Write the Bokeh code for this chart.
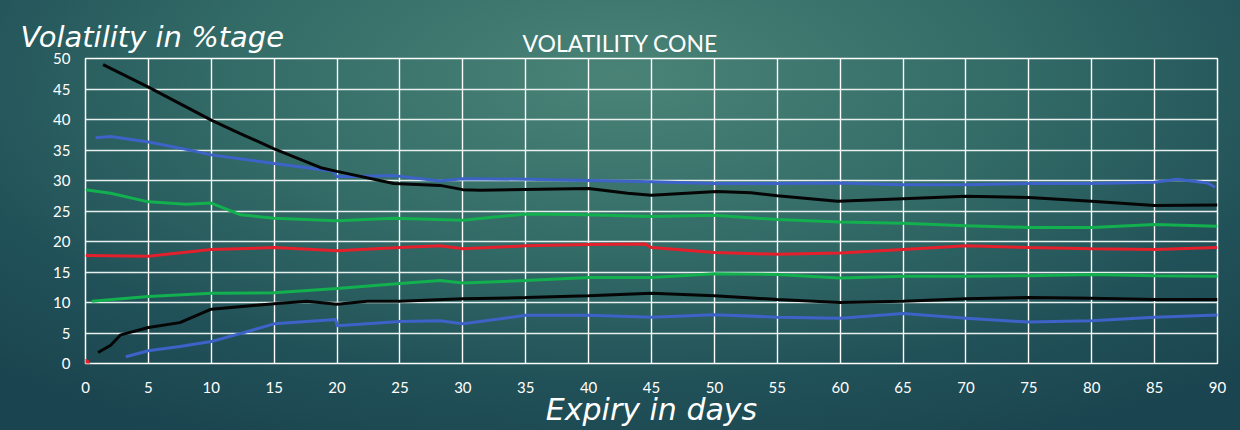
from bokeh.plotting import figure
from bokeh.models import Range1d, FixedTicker, Title
from bokeh.embed import file_html
from bokeh.resources import INLINE

# ---- data ----
x_ticks = list(range(0, 91, 5))
y_ticks = list(range(0, 51, 5))

black_hi_x = [1.4, 5, 10, 12.3, 15, 18.7, 20, 24.5, 28.2, 30, 31.4, 40, 43.1, 45, 50.2, 52.9, 55, 59.8, 65, 70, 75, 80, 85, 90]
black_hi_y = [49, 45.3, 39.9, 37.7, 35.2, 32.1, 31.5, 29.5, 29.2, 28.5, 28.4, 28.7, 27.9, 27.6, 28.2, 28.0, 27.5, 26.6, 27.0, 27.4, 27.2, 26.6, 25.9, 26.0]

blue_hi_x = [0.8, 2, 5, 8, 10, 15, 19.7, 20, 24.5, 28.2, 30, 35, 40, 45, 50, 55, 60, 65, 70, 75, 80, 85, 86.8, 89.2, 89.8]
blue_hi_y = [37.0, 37.2, 36.3, 35.1, 34.2, 32.8, 31.5, 30.6, 30.8, 29.9, 30.3, 30.2, 30.0, 29.8, 29.5, 29.5, 29.6, 29.3, 29.3, 29.5, 29.5, 29.7, 30.2, 29.6, 28.9]

green_hi_x = [0, 2, 5, 8, 10, 12.3, 15, 20, 24.5, 30, 35, 40, 45, 50, 55, 60, 65, 70, 75, 80, 85, 90]
green_hi_y = [28.5, 27.9, 26.5, 26.1, 26.3, 24.4, 23.8, 23.4, 23.8, 23.5, 24.5, 24.4, 24.1, 24.3, 23.6, 23.2, 23.0, 22.6, 22.3, 22.3, 22.8, 22.5]

red_x = [0, 5, 10, 15, 20, 25, 28.2, 30, 35, 40, 44.5, 45, 50, 55, 60, 65, 70, 75, 80, 85, 90]
red_y = [17.7, 17.6, 18.7, 19.0, 18.5, 19.0, 19.3, 18.8, 19.3, 19.5, 19.6, 19.0, 18.2, 17.9, 18.1, 18.7, 19.3, 19.0, 18.8, 18.7, 19.0]

green_lo_x = [0.5, 5, 10, 15, 20, 25, 28.2, 30, 35, 40, 45, 50, 55, 60, 65, 70, 75, 80, 85, 90.8]
green_lo_y = [10.2, 11.0, 11.5, 11.6, 12.3, 13.1, 13.6, 13.2, 13.6, 14.1, 14.1, 14.7, 14.6, 14.0, 14.3, 14.3, 14.4, 14.6, 14.4, 14.3]

black_lo_x = [1, 2, 2.8, 5, 7.5, 10, 15, 17.6, 20, 22.4, 25, 30, 35, 40, 45, 50, 55, 60, 65, 70, 75, 80, 85, 90]
black_lo_y = [1.8, 3.0, 4.7, 5.9, 6.7, 8.9, 9.8, 10.2, 9.7, 10.2, 10.2, 10.6, 10.8, 11.1, 11.5, 11.1, 10.5, 10.0, 10.2, 10.6, 10.8, 10.7, 10.5, 10.5]

blue_lo_x = [3.2, 5, 7.5, 10, 12.3, 15, 19.9, 20, 25, 28.2, 30, 35, 40, 45, 50, 55, 60, 65, 70, 75, 80, 85, 90.5]
blue_lo_y = [1.1, 2.1, 2.8, 3.6, 4.9, 6.5, 7.2, 6.2, 6.9, 7.0, 6.5, 7.9, 7.9, 7.6, 8.0, 7.6, 7.4, 8.2, 7.4, 6.8, 7.0, 7.6, 8.0]

origin_x = [0]
origin_y = [0]

title_text = "VOLATILITY CONE"
y_note = "Volatility in %tage"
x_note = "Expiry in days"

BLACK = "#050505"
BLUE = "#3d62c8"
GREEN = "#12b04e"
RED = "#e3202c"
FONT = "Lato"

p = figure(width=1240, height=430, output_backend="svg", toolbar_location=None,
           x_range=Range1d(0, 90), y_range=Range1d(0, 50),
           min_border_left=85, min_border_right=23, min_border_top=58, min_border_bottom=67)
p.styles = {"background": "radial-gradient(ellipse 75% 95% at 50% 18%, #4a8376 0%, #346d68 40%, #215158 75%, #1a444f 100%)"}
p.border_fill_color = None
p.background_fill_color = None
p.outline_line_color = "white"
p.outline_line_width = 1.5

for ax in (p.xaxis[0], p.yaxis[0]):
    ax.axis_line_color = None
    ax.major_tick_line_color = None
    ax.minor_tick_line_color = None
    ax.major_label_text_color = "white"
    ax.major_label_text_font = FONT
    ax.major_label_text_font_size = "15px"
p.xaxis[0].ticker = FixedTicker(ticks=x_ticks)
p.yaxis[0].ticker = FixedTicker(ticks=y_ticks)
p.xaxis[0].major_label_standoff = 12
p.yaxis[0].major_label_standoff = 9
p.xaxis[0].axis_label = x_note
p.xaxis[0].axis_label_text_color = "white"
p.xaxis[0].axis_label_text_font = "DejaVu Sans"
p.xaxis[0].axis_label_text_font_style = "italic"
p.xaxis[0].axis_label_text_font_size = "30px"
p.xaxis[0].axis_label_standoff = -4

p.xgrid[0].ticker = FixedTicker(ticks=x_ticks)
p.ygrid[0].ticker = FixedTicker(ticks=y_ticks)
p.xgrid[0].grid_line_color = "white"
p.ygrid[0].grid_line_color = "#e8f0ee"
p.xgrid[0].grid_line_width = 1.4
p.ygrid[0].grid_line_width = 1.6

lw = 3
p.line(blue_lo_x, blue_lo_y, line_color=BLUE, line_width=lw)
p.line(black_lo_x, black_lo_y, line_color=BLACK, line_width=lw)
p.line(green_lo_x, green_lo_y, line_color=GREEN, line_width=lw)
p.line(red_x, red_y, line_color=RED, line_width=lw)
p.line(green_hi_x, green_hi_y, line_color=GREEN, line_width=lw)
p.line(blue_hi_x, blue_hi_y, line_color=BLUE, line_width=lw)
p.line(black_hi_x, black_hi_y, line_color=BLACK, line_width=lw)
p.scatter(origin_x, origin_y, size=8, color=RED)

main_title = Title(text=title_text, align="left", offset=437, text_color="white",
                   text_font=FONT, text_font_style="normal", text_font_size="23px",
                   vertical_align="top", standoff=0)
note_title = Title(text=y_note, align="left", offset=-65, text_color="white",
                   text_font="DejaVu Sans", text_font_style="italic", text_font_size="29px",
                   vertical_align="bottom", standoff=-50)
p.add_layout(main_title, "above")
p.add_layout(note_title, "above")

open("out.html", "w").write(file_html(p, INLINE))
